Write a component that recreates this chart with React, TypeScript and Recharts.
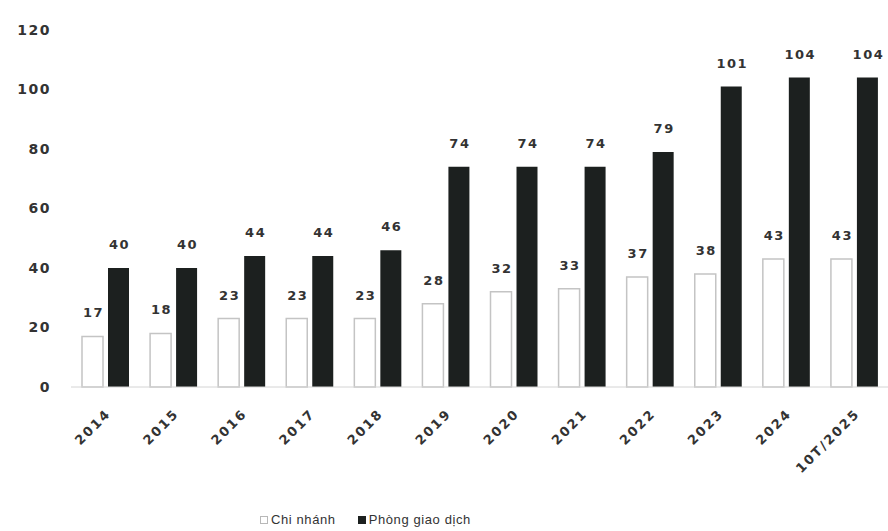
import React from "react";
import {
  BarChart,
  Bar,
  XAxis,
  YAxis,
  Legend,
  LabelList,
} from "recharts";

// Số lượng chi nhánh / phòng giao dịch theo năm
const years = [
  "2014", "2015", "2016", "2017", "2018", "2019",
  "2020", "2021", "2022", "2023", "2024", "10T/2025",
];
const chiNhanh = [17, 18, 23, 23, 23, 28, 32, 33, 37, 38, 43, 43];
const phongGiaoDich = [40, 40, 44, 44, 46, 74, 74, 74, 79, 101, 104, 104];
const yTicks = [0, 20, 40, 60, 80, 100, 120];

const data = years.map((year, i) => ({
  year,
  chiNhanh: chiNhanh[i],
  phongGiaoDich: phongGiaoDich[i],
}));

const font = "'Liberation Sans', Arial, sans-serif";
const numFont = "'DejaVu Sans', sans-serif";

const legendItems = [
  { name: "Chi nhánh", fill: "#ffffff", stroke: "#b8b8b8" },
  { name: "Phòng giao dịch", fill: "#1c201f", stroke: "#1c201f" },
];

const LegendContent = () => (
  <div style={{ display: "flex", gap: 22, fontSize: 13, color: "#333", fontFamily: font, letterSpacing: 0.6 }}>
    {legendItems.map((it) => (
      <span key={it.name} style={{ display: "flex", alignItems: "center", gap: 3 }}>
        <span
          style={{
            display: "inline-block",
            width: 6,
            height: 6,
            background: it.fill,
            border: `1px solid ${it.stroke}`,
          }}
        />
        {it.name}
      </span>
    ))}
  </div>
);

const numStyle = {
  fill: "#333",
  fontFamily: numFont,
  fontSize: 13,
  fontWeight: 600,
  letterSpacing: 1.5,
};

export default function App() {
  return (
    <div style={{ position: "absolute", left: 0, top: 0, width: 888, height: 531, background: "#fff" }}>
      <BarChart
        width={888}
        height={531}
        data={data}
        margin={{ top: 30, right: 0, bottom: 4, left: 0 }}
        barGap={5}
        barSize={21}
        style={{ fontFamily: font }}
      >
        <XAxis
          dataKey="year"
          interval={0}
          height={125}
          axisLine={{ stroke: "#d4d4d4" }}
          tickLine={false}
          angle={-45}
          textAnchor="end"
          tick={{ ...numStyle, letterSpacing: 2 }}
          tickMargin={15}
        />
        <YAxis
          width={71}
          domain={[0, 120]}
          ticks={yTicks}
          axisLine={false}
          tickLine={false}
          tickMargin={14}
          tick={{ ...numStyle, fontSize: 14 }}
        />
        <Legend
          verticalAlign="bottom"
          align="left"
          content={LegendContent}
          wrapperStyle={{ left: 260, width: 260 }}
        />
        <Bar
          dataKey="chiNhanh"
          name="Chi nhánh"
          fill="#ffffff"
          stroke="#c4c4c4"
          strokeWidth={1.5}
          isAnimationActive={false}
        >
          <LabelList dataKey="chiNhanh" position="top" offset={19} dx={1} {...numStyle} />
        </Bar>
        <Bar
          dataKey="phongGiaoDich"
          name="Phòng giao dịch"
          fill="#1c201f"
          isAnimationActive={false}
        >
          <LabelList dataKey="phongGiaoDich" position="top" offset={19} dx={1} {...numStyle} />
        </Bar>
      </BarChart>
    </div>
  );
}
